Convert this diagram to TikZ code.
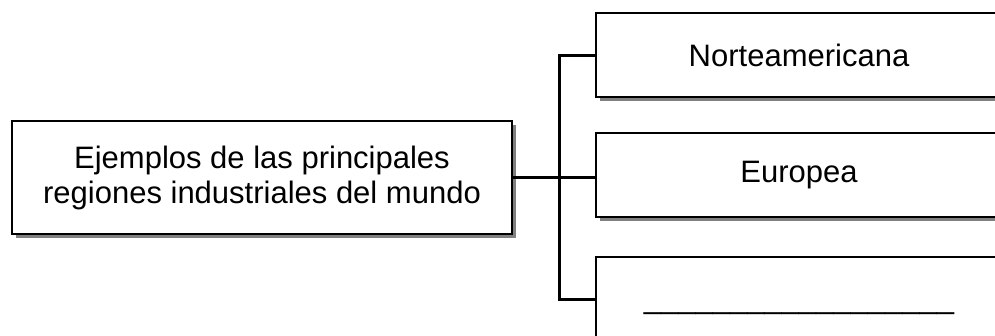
\documentclass[tikz,border=0pt]{standalone}
\usepackage{fontspec}
\setmainfont{Liberation Sans}
\usetikzlibrary{shadows}
\begin{document}
\begin{tikzpicture}[x=1pt,y=-1pt,
  box/.style={draw=black, line width=2pt, fill=white, rectangle, inner sep=0pt,
    anchor=north west, align=center,
    font=\fontsize{31}{35}\selectfont,
    drop shadow={shadow xshift=4pt, shadow yshift=-4pt, fill=black!50, opacity=1}},
  conn/.style={draw=black, line width=3pt}]
\path[use as bounding box, clip] (0,0) rectangle (995,335);
\fill[white] (0,0) rectangle (995,335);
\node[box, minimum width=500pt, minimum height=113pt] (main) at (11,120)
  {Ejemplos de las principales\\regiones industriales del mundo};
\node[box, minimum width=406pt, minimum height=84pt] (top) at (595,12) {Norteamericana};
\node[box, minimum width=406pt, minimum height=84pt] (mid) at (595,132) {Europea};
\node[box, minimum width=406pt, minimum height=84pt] (bot) at (595,256) {\raisebox{-9pt}[0pt][0pt]{\_\_\_\_\_\_\_\_\_\_\_\_\_\_\_\_\_\_}};
\draw[conn] (main.east) -- (main.east -| mid.west);
\draw[conn] (top.west) -- ++(-36,0) |- (bot.west);
\end{tikzpicture}
\end{document}
